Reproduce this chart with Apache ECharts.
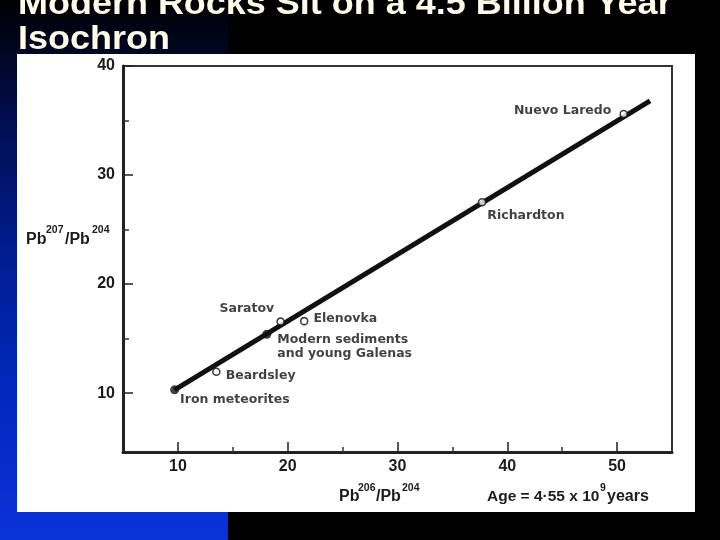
<!DOCTYPE html>
<html>
<head>
<meta charset="utf-8">
<title>Modern Rocks Sit on a 4.5 Billion Year Isochron</title>
<script src="https://cdn.jsdelivr.net/npm/echarts@6/dist/echarts.min.js"></script>
<style>
	html, body {
		margin: 0;
		padding: 0;
		background: #000;
	}

	#wrap {
		position: relative;
		width: 720px;
		height: 540px;
		overflow: hidden;
		background: #000;
	}

	/* blue band on the left of the slide */
	.strip {
		position: absolute;
		left: 0;
		top: 0;
		width: 228px;
		height: 540px;
		background: linear-gradient(to bottom, #000000 0%, #000c48 20%, #001c8c 45%, #0028bc 72%, #0a32da 100%);
	}

	/* the scanned sheet */
	.paper {
		position: absolute;
		left: 17px;
		top: 54px;
		width: 678px;
		height: 458px;
		background: #fff;
	}

	#chart {
		position: absolute;
		left: 0;
		top: 0;
		width: 720px;
		height: 540px;
	}
</style>
</head>
<body>
<div id="wrap">
	<div class="strip"></div>
	<div class="paper"></div>
	<div id="chart"></div>
</div>
<script>
	// isochron line (two ends)
	var lineX = [9.7, 53.0];
	var lineY = [10.3, 36.8];

	// filled points
	var solidNames = ['Iron meteorites', 'Modern sediments\nand young Galenas'];
	var solidX = [9.7, 18.1];
	var solidY = [10.3, 15.4];

	// open points
	var openNames = ['Beardsley', 'Saratov', 'Elenovka', 'Richardton', 'Nuevo Laredo'];
	var openX = [13.5, 19.35, 21.5, 37.7, 50.6];
	var openY = [11.96, 16.56, 16.6, 27.5, 35.6];

	// ticks
	var xMajor = [10, 20, 30, 40, 50];
	var xMinor = [15, 25, 35, 45];
	var yMajor = [10, 20, 30, 40];
	var yMinor = [15, 25, 35];

	var ink = '#1c1c1c';
	var numFont = 'Liberation Sans';
	var labelFont = 'DejaVu Sans';

	// where each name sits next to its point
	var labelPlace = {
		'Iron meteorites': { position: 'right', offset: [-4, 10] },
		'Modern sediments\nand young Galenas': { position: 'right', offset: [1, 13] },
		'Beardsley': { position: 'right', offset: [0, 4] },
		'Saratov': { position: 'left', offset: [3, -13] },
		'Elenovka': { position: 'right', offset: [0, -2] },
		'Richardton': { position: 'right', offset: [-4, 13] },
		'Nuevo Laredo': { position: 'left', offset: [-3, -3] }
	};

	function pointData(names, xs, ys) {
		var out = [];
		for (var i = 0; i < names.length; i++) {
			var p = labelPlace[names[i]];
			out.push({
				name: names[i],
				value: [xs[i], ys[i]],
				label: {
					show: true,
					position: p.position,
					offset: p.offset,
					distance: 5
				}
			});
		}
		return out;
	}

	var lineData = [];
	for (var i = 0; i < lineX.length; i++) {
		lineData.push([lineX[i], lineY[i]]);
	}

	var pointLabel = {
		formatter: '{b}',
		color: '#111',
		fontFamily: labelFont,
		fontWeight: 'bold',
		fontSize: 12.5,
		lineHeight: 14
	};

	function txt(x, y, s, size, color, extra) {
		var st = {
			text: s,
			x: x,
			y: y,
			fill: color,
			font: 'bold ' + size + 'px "' + numFont + '"',
			textAlign: 'left',
			textVerticalAlign: 'middle'
		};
		var el = { type: 'text', style: st, z: 10 };
		if (extra) {
			for (var k in extra) el[k] = extra[k];
		}
		return el;
	}

	var myChart = echarts.init(document.getElementById('chart'), null, { renderer: 'canvas' });

	var option = {
		backgroundColor: 'transparent',
		animation: false,
		grid: {
			left: 123,
			right: 48,
			top: 66,
			bottom: 88,
			show: true,
			borderColor: '#333',
			borderWidth: 2,
			backgroundColor: 'transparent'
		},
		xAxis: [{
			type: 'value',
			position: 'bottom',
			min: 5,
			max: 55,
			splitLine: { show: false },
			axisLine: { show: true, onZero: false, lineStyle: { color: '#222', width: 3 } },
			axisTick: {
				show: true,
				inside: true,
				length: 10,
				customValues: xMajor,
				lineStyle: { color: '#222', width: 1.5 }
			},
			axisLabel: {
				customValues: xMajor,
				margin: 7,
				color: ink,
				fontFamily: numFont,
				fontWeight: 'bold',
				fontSize: 16
			}
		}, {
			type: 'value',
			position: 'bottom',
			min: 5,
			max: 55,
			splitLine: { show: false },
			axisLine: { show: false },
			axisTick: {
				show: true,
				inside: true,
				length: 5,
				customValues: xMinor,
				lineStyle: { color: '#333', width: 1.5 }
			},
			axisLabel: { show: false }
		}],
		yAxis: [{
			type: 'value',
			position: 'left',
			min: 4.6,
			max: 40,
			splitLine: { show: false },
			axisLine: { show: true, onZero: false, lineStyle: { color: '#222', width: 3 } },
			axisTick: {
				show: true,
				inside: true,
				length: 10,
				customValues: yMajor,
				lineStyle: { color: '#222', width: 1.5 }
			},
			axisLabel: {
				customValues: yMajor,
				margin: 8,
				color: ink,
				fontFamily: numFont,
				fontWeight: 'bold',
				fontSize: 16
			}
		}, {
			type: 'value',
			position: 'left',
			min: 4.6,
			max: 40,
			splitLine: { show: false },
			axisLine: { show: false },
			axisTick: {
				show: true,
				inside: true,
				length: 6,
				customValues: yMinor,
				lineStyle: { color: '#333', width: 1.5 }
			},
			axisLabel: { show: false }
		}],
		series: [{
			name: 'isochron',
			type: 'line',
			data: lineData,
			showSymbol: false,
			lineStyle: { color: '#111', width: 5 },
			z: 2
		}, {
			name: 'solid',
			type: 'scatter',
			data: pointData(solidNames, solidX, solidY),
			symbol: 'circle',
			symbolSize: 9,
			itemStyle: { color: '#111' },
			label: pointLabel,
			z: 3
		}, {
			name: 'open',
			type: 'scatter',
			data: pointData(openNames, openX, openY),
			symbol: 'circle',
			symbolSize: 7,
			itemStyle: { color: '#fff', borderColor: '#111', borderWidth: 1.6 },
			label: pointLabel,
			z: 3
		}],
		graphic: [
			// slide title
			txt(18, 5, 'Modern Rocks Sit on a 4.5 Billion Year', 33, '#fffbe8', { scaleX: 1.09, originX: 18 }),
			txt(18, 40, 'Isochron', 33, '#fffbe8', { scaleX: 1.09, originX: 18 }),
			// y axis title
			txt(26, 240, 'Pb', 16, ink),
			txt(46, 230, '207', 10.5, ink),
			txt(65, 240, '/Pb', 16, ink),
			txt(92, 230, '204', 10.5, ink),
			// x axis title
			txt(339, 497, 'Pb', 16, ink),
			txt(358, 488, '206', 10.5, ink),
			txt(376, 497, '/Pb', 16, ink),
			txt(402, 488, '204', 10.5, ink),
			txt(487, 497, 'Age = 4·55 x 10', 15.5, ink),
			txt(600, 488, '9', 10.5, ink),
			txt(607, 497, 'years', 16, ink)
		]
	};

	myChart.setOption(option);
</script>
</body>
</html>
